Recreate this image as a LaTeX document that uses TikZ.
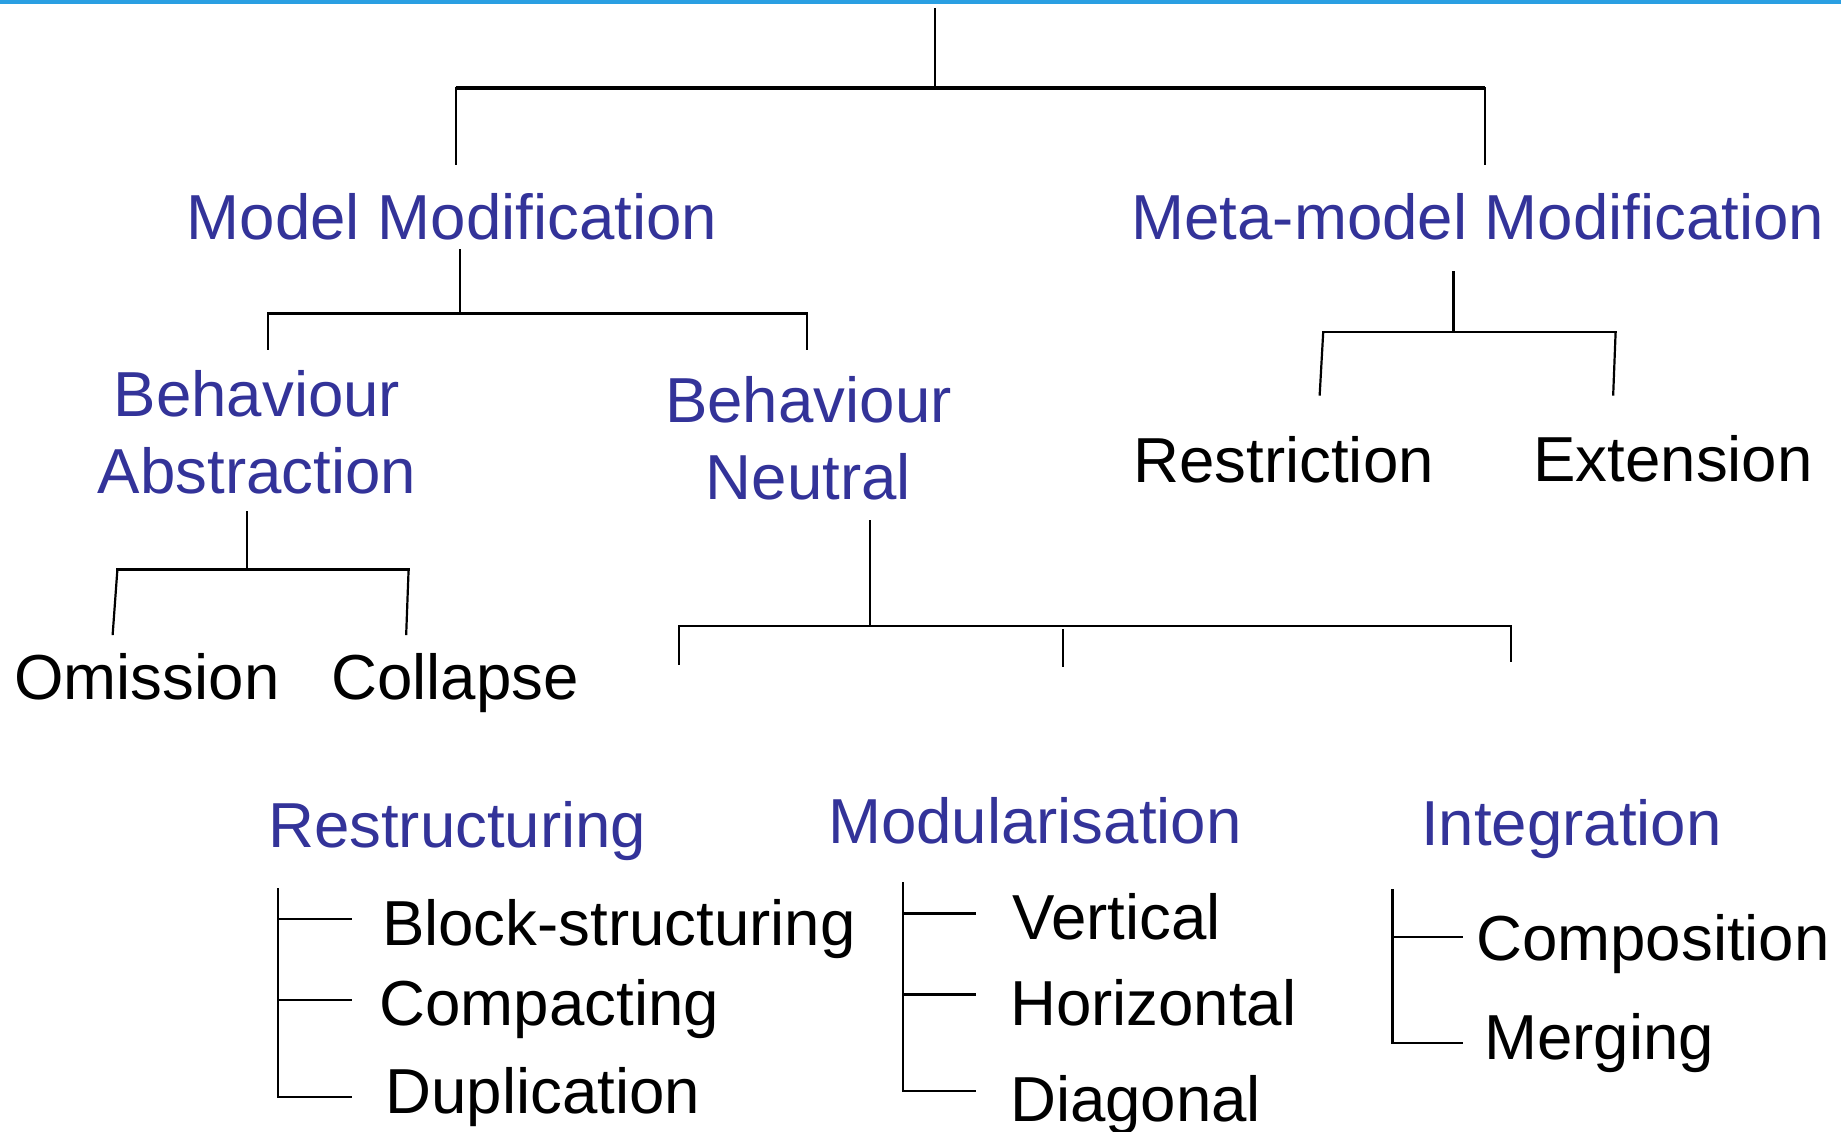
\documentclass[tikz,border=0pt]{standalone}
\usepackage{fontspec}
\setmainfont{Liberation Sans}
\definecolor{headblue}{HTML}{333399}
\definecolor{rule}{HTML}{2A9FE2}
\begin{document}
\begin{tikzpicture}[x=0.5pt,y=-0.5pt,
  lbl/.style={inner sep=0pt,anchor=base west,font=\fontsize{31.8}{38.4}\selectfont},
  head/.style={lbl,text=headblue},
  item/.style={lbl,text=black},
  twoline/.style={head,anchor=base,align=center},
  wire/.style={line width=1.1pt,line cap=rect},
  bar/.style={line width=1.6pt}]
\useasboundingbox (0,0) rectangle (1841,1131);
\fill[rule] (0,0) rectangle (1841,3.6);

% ---- labels (two-line labels are anchored on their last baseline) ----
\node[head,anchor=base] (mm)  at (452,239.5) {Model Modification};
\node[head,anchor=base] (mmm) at (1478,239.5) {Meta-model Modification};
\node[twoline] (ba) at (257,493.1) {Behaviour\\Abstraction};
\node[twoline] (bn) at (808.4,499) {Behaviour\\Neutral};
\node[item] (om) at (14,699.8) {Omission};
\node[item] (co) at (331,699.8) {Collapse};
\node[item] (rs) at (1133,482.6) {Restriction};
\node[item] (ex) at (1533,481.4) {Extension};
\node[head] (re) at (267.7,847.7) {Restructuring};
\node[head] (mo) at (827.7,843) {Modularisation};
\node[head] (in) at (1420.6,845.3) {Integration};
\node[item] (bs) at (381.6,945) {Block-structuring};
\node[item] (cp) at (379.2,1025) {Compacting};
\node[item] (du) at (385.1,1113) {Duplication};
\node[item] (ve) at (1012,939.3) {Vertical};
\node[item] (ho) at (1009.7,1025) {Horizontal};
\node[item] (di) at (1009.7,1121.3) {Diagonal};
\node[item] (cm) at (1475.8,960.4) {Composition};
\node[item] (me) at (1484,1059) {Merging};

% ---- bracket points ----
\coordinate (r0) at (934.6,9.4);
\coordinate (rj) at (934.6,88);
\coordinate (tl) at (455.6,88);
\coordinate (tr) at (1485.2,88);
\coordinate (mmTop) at (455.6,164);
\coordinate (mmmTop) at (1485.2,164);

\coordinate (mmBot) at (460,250);
\coordinate (mmJ) at (460,313.5);
\coordinate (baL) at (267.7,313.5);
\coordinate (bnR) at (806.6,313.5);
\coordinate (baTop) at (267.7,348.7);
\coordinate (bnTop) at (806.6,348.7);

\coordinate (baBot) at (246.6,512);
\coordinate (baJ) at (246.6,569.4);
\coordinate (omL) at (117.4,569.4);
\coordinate (coR) at (408.6,569.4);
\coordinate (omTop) at (112.7,634);
\coordinate (coTop) at (406.2,634);

\coordinate (bnBot) at (870,521);
\coordinate (bnJ) at (870,625.8);
\coordinate (reL) at (678.6,625.8);
\coordinate (inR) at (1511,625.8);
\coordinate (reTop) at (678.6,663.4);
\coordinate (moA) at (1062.6,630.5);
\coordinate (moTop) at (1062.6,665.7);
\coordinate (inTop) at (1511,661);

\coordinate (mmmBot) at (1453.5,272.4);
\coordinate (mmmJ) at (1453.5,332.3);
\coordinate (rsL) at (1323.2,332.3);
\coordinate (exR) at (1615.6,332.3);
\coordinate (rsTop) at (1319.7,394.5);
\coordinate (exTop) at (1613.2,394.5);

% list spines
\coordinate (reS) at (278.3,888.8);
\coordinate (reE) at (278.3,1096.6);
\coordinate (bsT) at (278.3,919.3);
\coordinate (cpT) at (278.3,1000.3);
\coordinate (bsE) at (351,919.3);
\coordinate (cpE) at (351,1000.3);
\coordinate (duE) at (351,1096.6);

\coordinate (moS) at (902.9,883);
\coordinate (moE) at (902.9,1090.7);
\coordinate (veT) at (902.9,913.4);
\coordinate (hoT) at (902.9,994.5);
\coordinate (veE) at (974.5,913.4);
\coordinate (hoE) at (974.5,994.5);
\coordinate (diE) at (974.5,1090.7);

\coordinate (inS) at (1392.5,890);
\coordinate (inE) at (1392.5,1042.6);
\coordinate (cmT) at (1392.5,937);
\coordinate (cmE) at (1461.8,937);
\coordinate (meE) at (1461.8,1042.6);

% ---- connectors ----
\draw[wire] (r0) -- (rj);
\draw[bar] (tl) -- (tr);
\draw[wire] (tl) -- (mmTop);
\draw[wire] (tr) -- (mmmTop);

\draw[wire] (mmBot) -- (mmJ);
\draw[bar] (baL) -- (bnR);
\draw[wire] (baL) -- (baTop);
\draw[wire] (bnR) -- (bnTop);

\draw[wire] (baBot) -- (baJ);
\draw[wire] (omL) -- (coR);
\draw[wire] (omL) -- (omTop);
\draw[wire] (coR) -- (coTop);

\draw[wire] (bnBot) -- (bnJ);
\draw[wire] (reL) -- (inR);
\draw[wire] (reL) -- (reTop);
\draw[wire] (moA) -- (moTop);
\draw[wire] (inR) -- (inTop);

\draw[wire] (mmmBot) -- (mmmJ);
\draw[wire] (rsL) -- (exR);
\draw[wire] (rsL) -- (rsTop);
\draw[wire] (exR) -- (exTop);

\draw[wire] (reS) -- (reE) -- (duE);
\draw[wire] (bsT) -- (bsE);
\draw[wire] (cpT) -- (cpE);

\draw[wire] (moS) -- (moE) -- (diE);
\draw[wire] (veT) -- (veE);
\draw[wire] (hoT) -- (hoE);

\draw[wire] (inS) -- (inE) -- (meE);
\draw[wire] (cmT) -- (cmE);
\end{tikzpicture}
\end{document}
